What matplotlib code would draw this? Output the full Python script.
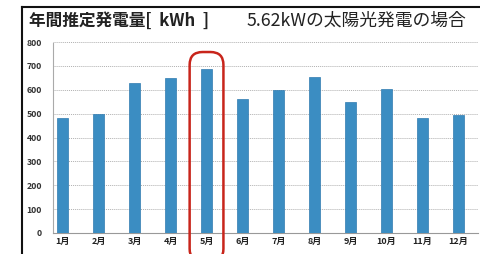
import matplotlib
matplotlib.use("Agg")
import matplotlib.pyplot as plt
from matplotlib.patches import FancyBboxPatch
from matplotlib.lines import Line2D

plt.rcParams['font.family'] = ['Noto Sans CJK JP', 'DejaVu Sans']

months = ['1月', '2月', '3月', '4月', '5月', '6月', '7月', '8月', '9月', '10月', '11月', '12月']
values = [481, 500, 630, 648, 686, 562, 598, 655, 550, 602, 483, 493]
yticks = [0, 100, 200, 300, 400, 500, 600, 700, 800]
title_left = '年間推定発電量[  kWh  ]'
title_right = '5.62kWの太陽光発電の場合'
highlight = 4

W, H = 480, 254
fig = plt.figure(figsize=(W/100, H/100), dpi=100)
fig.patch.set_facecolor('white')

ax = fig.add_axes([53/W, 1-233/H, (478-53)/W, (233-42)/H])
x = list(range(len(months)))
ax.bar(x, values, width=0.31, color='#3b8dc2', edgecolor='#2f7bb0', linewidth=0.5, zorder=3)
ax.set_xlim(-0.27, 11.55)
ax.set_ylim(0, 800)
ax.set_yticks(yticks)
ax.set_yticklabels([str(v) for v in yticks], fontsize=6.3, fontweight='bold', color='#333333')
ax.set_xticks(x)
ax.set_xticklabels(months, fontsize=6.5, fontweight='bold', color='#222222')
ax.tick_params(axis='both', length=0, pad=3)
ax.tick_params(axis='y', pad=8)
for s in ['top', 'right']:
    ax.spines[s].set_visible(False)
ax.spines['left'].set_linestyle((0, (1, 1)))
ax.spines['left'].set_color('#aaaaaa')
ax.spines['left'].set_linewidth(0.8)
ax.spines['bottom'].set_color('#999999')
ax.spines['bottom'].set_linewidth(0.8)
ax.yaxis.grid(True, linestyle=(0, (1, 1)), color='#b0b0b0', linewidth=0.7, zorder=0)

# red rounded highlight around May
hl = FancyBboxPatch((highlight - 0.47, -120), 0.94, 878,
                    boxstyle='round,pad=0,rounding_size=0.36',
                    mutation_aspect=150,
                    fill=False, edgecolor='#c8251b', linewidth=1.8,
                    clip_on=False, zorder=5, transform=ax.transData)
ax.add_patch(hl)

# frame lines
fig.add_artist(Line2D([22/W, 22/W], [0, 1-7/H], color='#111111', linewidth=1.5))
fig.add_artist(Line2D([22/W, 1], [1-7/H, 1-7/H], color='#111111', linewidth=1.5))

fig.text(29/W, 1-21/H, title_left, fontsize=12, fontweight='bold', color='#222222', va='center', ha='left')
fig.text(247/W, 1-21/H, title_right, fontsize=12.8, color='#222222', va='center', ha='left')

fig.savefig('out.png', dpi=100, facecolor='white')
